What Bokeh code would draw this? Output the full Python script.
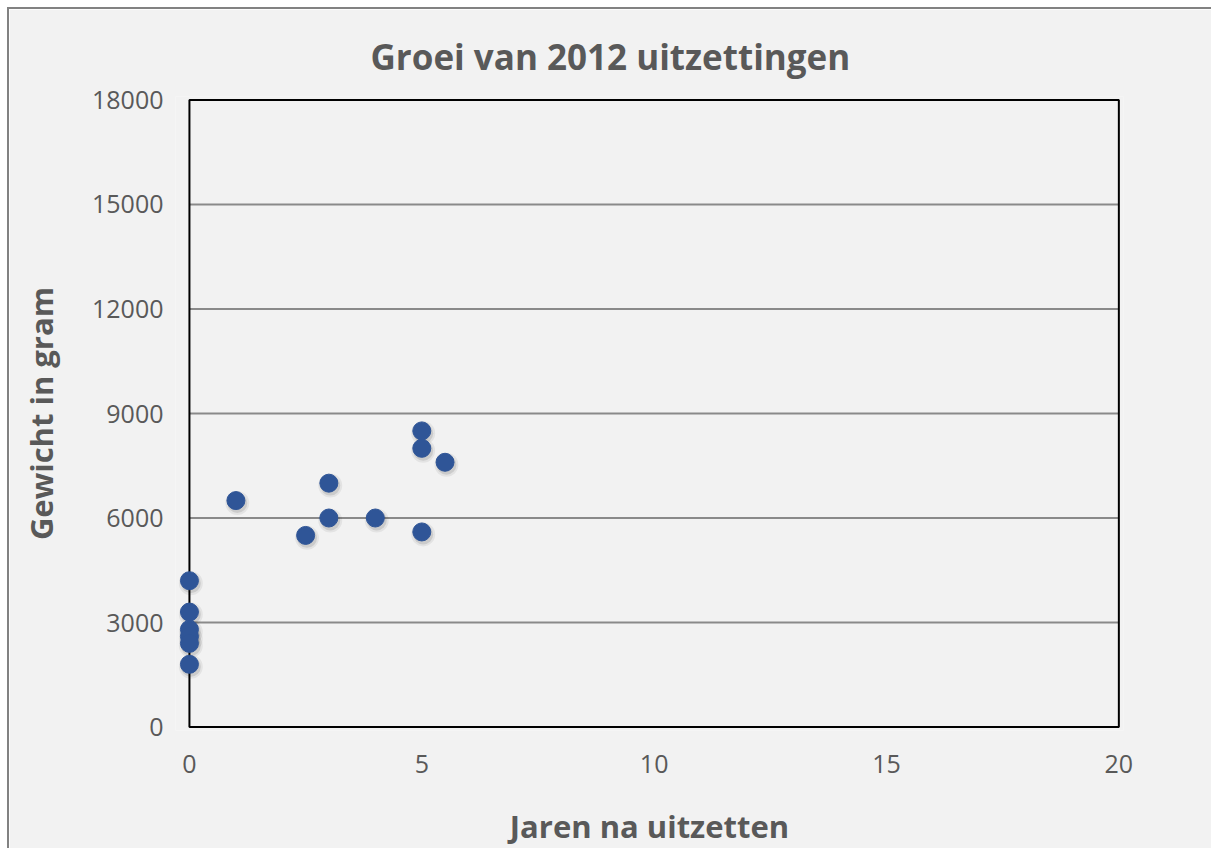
from bokeh.plotting import figure
from bokeh.models import FixedTicker, ColumnDataSource
from bokeh.embed import file_html
from bokeh.resources import INLINE

# Weight of the 2012 stockings against years since release
years = [0, 0, 0, 0, 0, 0, 1, 2.5, 3, 3, 4, 5, 5, 5, 5.5]
weight = [4200, 3300, 2800, 2600, 2400, 1800, 6500, 5500, 7000, 6000, 6000, 8500, 8000, 5600, 7600]

x_ticks = [0, 5, 10, 15, 20]
y_ticks = [0, 3000, 6000, 9000, 12000, 15000, 18000]

title_text = "Groei van 2012 uitzettingen"
x_label = "Jaren na uitzetten"
y_label = "Gewicht in gram"

BG = "#f2f2f2"
TEXT = "#595959"
FONT = "Open Sans"

x0, x1 = x_ticks[0], x_ticks[-1]
y0, y1 = y_ticks[0], y_ticks[-1]

# the frame is padded a little so markers on the axes are not clipped;
# the plot box itself is drawn as glyphs over the tick extent
p = figure(
    width=1204, height=841,
    x_range=(x0 - 0.3, x1 + 0.1), y_range=(y0 - 100, y1 + 100),
    output_backend="svg", toolbar_location=None,
    background_fill_color=BG, border_fill_color=BG,
    min_border_left=166, min_border_right=90,
    min_border_top=87, min_border_bottom=120,
    margin=(7, 0, 0, 7),
)
p.styles = {"border-top": "2px solid #828282", "border-left": "2px solid #828282"}
p.outline_line_color = None

p.title.text = title_text
p.title.align = "left"
p.title.offset = 195
p.title.text_font = FONT
p.title.text_font_size = "35px"
p.title.text_font_style = "bold"
p.title.text_color = TEXT
p.title.standoff = 34

for ax in (p.xaxis, p.yaxis):
    ax.axis_line_color = None
    ax.major_tick_line_color = None
    ax.minor_tick_line_color = None
    ax.major_label_text_font = FONT
    ax.major_label_text_font_size = "25px"
    ax.major_label_text_color = TEXT
    ax.axis_label_text_font = FONT
    ax.axis_label_text_font_style = "bold"
    ax.axis_label_text_color = TEXT

p.xaxis.axis_label_text_font_size = "31px"
p.yaxis.axis_label_text_font_size = "31px"
p.xaxis.ticker = FixedTicker(ticks=x_ticks)
p.yaxis.ticker = FixedTicker(ticks=y_ticks)
p.xaxis.major_label_standoff = 18
p.yaxis.major_label_standoff = 6
p.xaxis.axis_label = x_label
p.yaxis.axis_label = y_label
p.xaxis.axis_label_standoff = 29
p.yaxis.axis_label_standoff = 27

p.xgrid.grid_line_color = None
p.ygrid.grid_line_color = None

# horizontal gridlines across the plot box
inner = y_ticks[1:-1]
p.segment(x0=[x0] * len(inner), x1=[x1] * len(inner), y0=inner, y1=inner,
          line_color="#8a8a8a", line_width=2)

# plot box border
p.quad(left=[x0], right=[x1], bottom=[y0], top=[y1],
       fill_color=None, line_color="black", line_width=2)

src = ColumnDataSource(dict(x=years, y=weight))
shadow = ColumnDataSource(dict(x=[v + 0.03 for v in years], y=[v - 70 for v in weight]))

# soft drop shadow under each marker
p.scatter("x", "y", source=shadow, size=24, fill_color="#000000", fill_alpha=0.06, line_color=None)
p.scatter("x", "y", source=shadow, size=20, fill_color="#000000", fill_alpha=0.10, line_color=None)
p.scatter("x", "y", source=src, size=18, fill_color="#2f5597", line_color="#2f5597", line_width=1)

open("out.html", "w").write(file_html(p, INLINE))
